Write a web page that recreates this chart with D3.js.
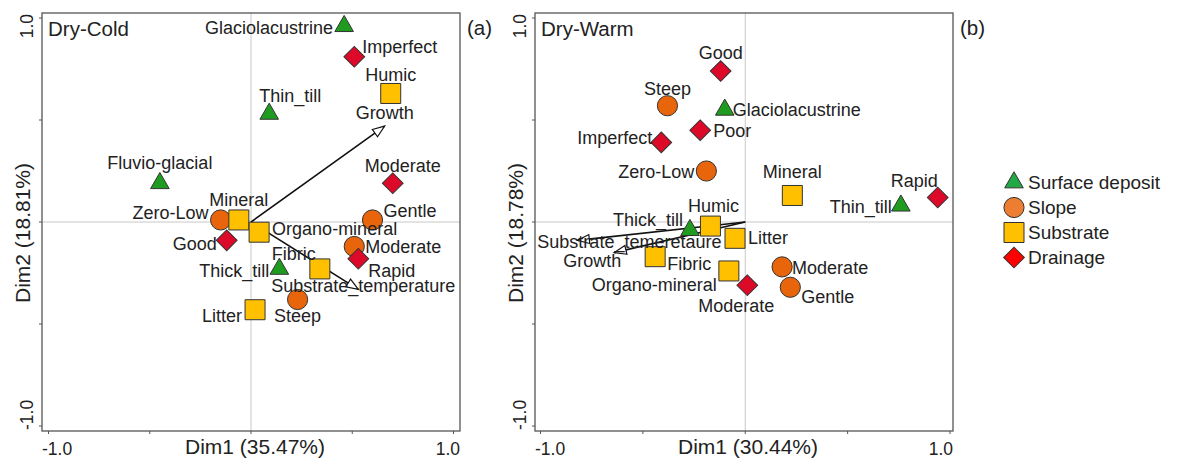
<!DOCTYPE html>
<html>
<head>
<meta charset="utf-8">
<script src="https://cdn.jsdelivr.net/npm/d3@7"></script>
<style>
  body { margin: 0; background: #fff; }
  text { font-family: 'Liberation Sans', Arial, sans-serif; fill: #222; }
</style>
</head>
<body>
<div id="chart"></div>
<script>
// categories (legend order)
const groups = ['Surface deposit', 'Slope', 'Substrate', 'Drainage'];

// Dry-Cold: [label, group, Dim1, Dim2]
const coldPoints = [
  ['Glaciolacustrine', 'Surface deposit', 0.46, 0.96],
  ['Thin_till', 'Surface deposit', 0.09, 0.53],
  ['Fluvio-glacial', 'Surface deposit', -0.45, 0.19],
  ['Thick_till', 'Surface deposit', 0.14, -0.23],
  ['Zero-Low', 'Slope', -0.15, 0.01],
  ['Gentle', 'Slope', 0.60, 0.01],
  ['Moderate', 'Slope', 0.51, -0.12],
  ['Steep', 'Slope', 0.23, -0.38],
  ['Humic', 'Substrate', 0.69, 0.63],
  ['Mineral', 'Substrate', -0.06, 0.01],
  ['Organo-mineral', 'Substrate', 0.04, -0.05],
  ['Fibric', 'Substrate', 0.34, -0.23],
  ['Litter', 'Substrate', 0.02, -0.43],
  ['Imperfect', 'Drainage', 0.51, 0.81],
  ['Moderate', 'Drainage', 0.70, 0.19],
  ['Good', 'Drainage', -0.12, -0.09],
  ['Rapid', 'Drainage', 0.53, -0.18]
];
const coldVectors = [
  ['Growth', 0.66, 0.47],
  ['Substrate_temperature', 0.53, -0.33]
];

// Dry-Warm
const warmPoints = [
  ['Glaciolacustrine', 'Surface deposit', -0.10, 0.55],
  ['Thin_till', 'Surface deposit', 0.76, 0.08],
  ['Thick_till', 'Surface deposit', -0.27, -0.04],
  ['Steep', 'Slope', -0.38, 0.57],
  ['Zero-Low', 'Slope', -0.19, 0.25],
  ['Moderate', 'Slope', 0.18, -0.22],
  ['Gentle', 'Slope', 0.22, -0.32],
  ['Mineral', 'Substrate', 0.23, 0.13],
  ['Humic', 'Substrate', -0.17, -0.02],
  ['Litter', 'Substrate', -0.05, -0.08],
  ['Fibric', 'Substrate', -0.44, -0.17],
  ['Organo-mineral', 'Substrate', -0.08, -0.24],
  ['Good', 'Drainage', -0.12, 0.74],
  ['Poor', 'Drainage', -0.22, 0.45],
  ['Imperfect', 'Drainage', -0.41, 0.39],
  ['Rapid', 'Drainage', 0.94, 0.12],
  ['Moderate', 'Drainage', 0.01, -0.31]
];
const warmVectors = [
  ['Substrate_temeretaure', -0.82, -0.09],
  ['Growth', -0.64, -0.15]
];

const axisTicks = [-1, -0.5, 0, 0.5, 1];
const tickLabels = ['-1.0', '1.0'];
const coldTitles = ['Dry-Cold', '(a)', 'Dim1 (35.47%)', 'Dim2 (18.81%)'];
const warmTitles = ['Dry-Warm', '(b)', 'Dim1 (30.44%)', 'Dim2 (18.78%)'];

// label placement (anchor, dx, dy), same order as the points
const coldLabelPos = [
  ['end', -11, 2], ['middle', 21, -18], ['middle', 0, -20], ['end', -10, 2],
  ['end', -12, -7], ['start', 11, -9], ['start', 11, 1], ['middle', 0, 16],
  ['middle', 0, -18], ['middle', 0, -20], ['start', 13, -3], ['end', -4, -15], ['end', -13, 6],
  ['start', 8, -10], ['middle', 10, -17], ['end', -10, 4], ['start', 10, 12]
];
const coldVecPos = [['middle', 0, -13], ['middle', 5, -3]];
const warmLabelPos = [
  ['start', 8, 0], ['end', -9, 1], ['end', -7, -10],
  ['middle', 0, -17], ['end', -12, 1], ['start', 10, 1], ['start', 11, 10],
  ['middle', 0, -23], ['middle', 3, -20], ['start', 13, 0], ['start', 12, 7], ['end', -12, 14],
  ['middle', 0, -18], ['start', 13, 1], ['end', -9, -4], ['end', 0, -17], ['middle', -11, 21]
];
const warmVecPos = [['start', -40, 2], ['end', 7, 8]];

const fills = {'Surface deposit': '#1f9c1f', 'Slope': '#e8650c', 'Substrate': '#ffc000', 'Drainage': '#dc0a28'};
const legendFills = {'Surface deposit': '#22a844', 'Slope': '#ed7d31', 'Substrate': '#ffc000', 'Drainage': '#ff0000'};

const width = 1177, height = 461;
const svg = d3.select('#chart').append('svg')
  .attr('width', width)
  .attr('height', height);

svg.append('defs').append('marker')
  .attr('id', 'head')
  .attr('markerUnits', 'userSpaceOnUse')
  .attr('viewBox', '-1 -6 15 12')
  .attr('refX', 12).attr('refY', 0)
  .attr('markerWidth', 15).attr('markerHeight', 12)
  .attr('orient', 'auto')
  .append('path')
  .attr('d', 'M0,-4.5L12,0L0,4.5Z')
  .attr('fill', '#fff')
  .attr('stroke', '#111')
  .attr('stroke-width', 1.2);

const symbolFor = (g, legend) => {
  const s = legend ? 1 : 1;
  if (g === 'Surface deposit') return d3.symbol(d3.symbolTriangle, 150 * s)();
  if (g === 'Slope') return d3.symbol(d3.symbolCircle, 320 * s)();
  if (g === 'Substrate') return d3.symbol(d3.symbolSquare, 400 * s)();
  return d3.symbol(d3.symbolSquare, 215 * s)();
};

const drawPanel = (box, xr, points, vectors, labelPos, vecPos, titles) => {
  const x = d3.scaleLinear().domain([-1, 1]).range(xr);
  const y = d3.scaleLinear().domain([-1, 1]).range([426, 18]);
  const g = svg.append('g');

  // zero lines
  g.append('line')
    .attr('x1', x(0)).attr('x2', x(0))
    .attr('y1', box.top).attr('y2', box.bottom)
    .attr('stroke', '#c8c8c8');
  g.append('line')
    .attr('x1', box.left).attr('x2', box.right)
    .attr('y1', y(0)).attr('y2', y(0))
    .attr('stroke', '#c8c8c8');

  g.append('rect')
    .attr('x', box.left).attr('y', box.top)
    .attr('width', box.right - box.left)
    .attr('height', box.bottom - box.top)
    .attr('fill', 'none')
    .attr('stroke', '#555')
    .attr('stroke-width', 1.3);

  // ticks
  g.selectAll('.xt').data(axisTicks).enter().append('line')
    .attr('x1', d => x(d)).attr('x2', d => x(d))
    .attr('y1', box.bottom).attr('y2', box.bottom + 3)
    .attr('stroke', '#555');
  g.selectAll('.yt').data(axisTicks).enter().append('line')
    .attr('x1', box.left - 3).attr('x2', box.left)
    .attr('y1', d => y(d)).attr('y2', d => y(d))
    .attr('stroke', '#555');

  g.append('text').attr('x', box.left).attr('y', 455)
    .attr('font-size', 17.5).text(tickLabels[0]);
  g.append('text').attr('x', box.right).attr('y', 455)
    .attr('text-anchor', 'end').attr('font-size', 17.5).text(tickLabels[1]);
  g.append('text')
    .attr('transform', `translate(${box.left - 9},${box.top + 1}) rotate(-90)`)
    .attr('text-anchor', 'end').attr('font-size', 17.5).text(tickLabels[1]);
  g.append('text')
    .attr('transform', `translate(${box.left - 9},${box.bottom - 1}) rotate(-90)`)
    .attr('font-size', 17.5).text(tickLabels[0]);

  // titles
  g.append('text').attr('x', box.left + 6).attr('y', 36)
    .attr('font-size', 20.5).text(titles[0]);
  g.append('text').attr('x', box.right + 7).attr('y', 35)
    .attr('font-size', 20.5).text(titles[1]);
  g.append('text').attr('x', (box.left + box.right) / 2 + 4).attr('y', 454)
    .attr('text-anchor', 'middle').attr('font-size', 21).text(titles[2]);
  g.append('text')
    .attr('transform', `translate(${box.left - 12},233) rotate(-90)`)
    .attr('text-anchor', 'middle').attr('font-size', 21).text(titles[3]);

  // supplementary vectors
  g.selectAll('.vec').data(vectors).enter().append('line')
    .attr('x1', x(0)).attr('y1', y(0))
    .attr('x2', d => x(d[1])).attr('y2', d => y(d[2]))
    .attr('stroke', '#111')
    .attr('stroke-width', 1.6)
    .attr('marker-end', 'url(#head)');

  // points, drawn by group order
  const sorted = points.map((p, i) => ({p, i}))
    .sort((a, b) => groups.indexOf(a.p[1]) - groups.indexOf(b.p[1]));
  g.selectAll('.pt').data(sorted).enter().append('path')
    .attr('d', d => symbolFor(d.p[1]))
    .attr('transform', d => `translate(${x(d.p[2])},${y(d.p[3])})` + (d.p[1] === 'Drainage' ? ' rotate(45)' : ''))
    .attr('fill', d => fills[d.p[1]])
    .attr('stroke', '#333')
    .attr('stroke-width', 1);

  g.selectAll('.lbl').data(points).enter().append('text')
    .attr('x', (d, i) => x(d[2]) + labelPos[i][1])
    .attr('y', (d, i) => y(d[3]) + labelPos[i][2])
    .attr('text-anchor', (d, i) => labelPos[i][0])
    .attr('dominant-baseline', 'central')
    .attr('font-size', 18)
    .text(d => d[0]);

  g.selectAll('.vlbl').data(vectors).enter().append('text')
    .attr('x', (d, i) => x(d[1]) + vecPos[i][1])
    .attr('y', (d, i) => y(d[2]) + vecPos[i][2])
    .attr('text-anchor', (d, i) => vecPos[i][0])
    .attr('dominant-baseline', 'central')
    .attr('font-size', 18)
    .text(d => d[0]);
};

drawPanel({left: 42, right: 460, top: 13, bottom: 431}, [48.5, 453.5],
  coldPoints, coldVectors, coldLabelPos, coldVecPos, coldTitles);
drawPanel({left: 535, right: 953, top: 13, bottom: 431}, [540.5, 950],
  warmPoints, warmVectors, warmLabelPos, warmVecPos, warmTitles);

// legend
const legendY = d3.scaleBand().domain(groups).range([170, 270]);
const leg = svg.append('g');
leg.selectAll('path').data(groups).enter().append('path')
  .attr('d', d => symbolFor(d, true))
  .attr('transform', d => `translate(1014,${legendY(d) + legendY.bandwidth() / 2})` + (d === 'Drainage' ? ' rotate(45)' : ''))
  .attr('fill', d => legendFills[d])
  .attr('stroke', '#333')
  .attr('stroke-width', 1);
leg.selectAll('text').data(groups).enter().append('text')
  .attr('x', 1028)
  .attr('y', d => legendY(d) + legendY.bandwidth() / 2)
  .attr('dominant-baseline', 'central')
  .attr('font-size', 19)
  .text(d => d);
</script>
</body>
</html>
